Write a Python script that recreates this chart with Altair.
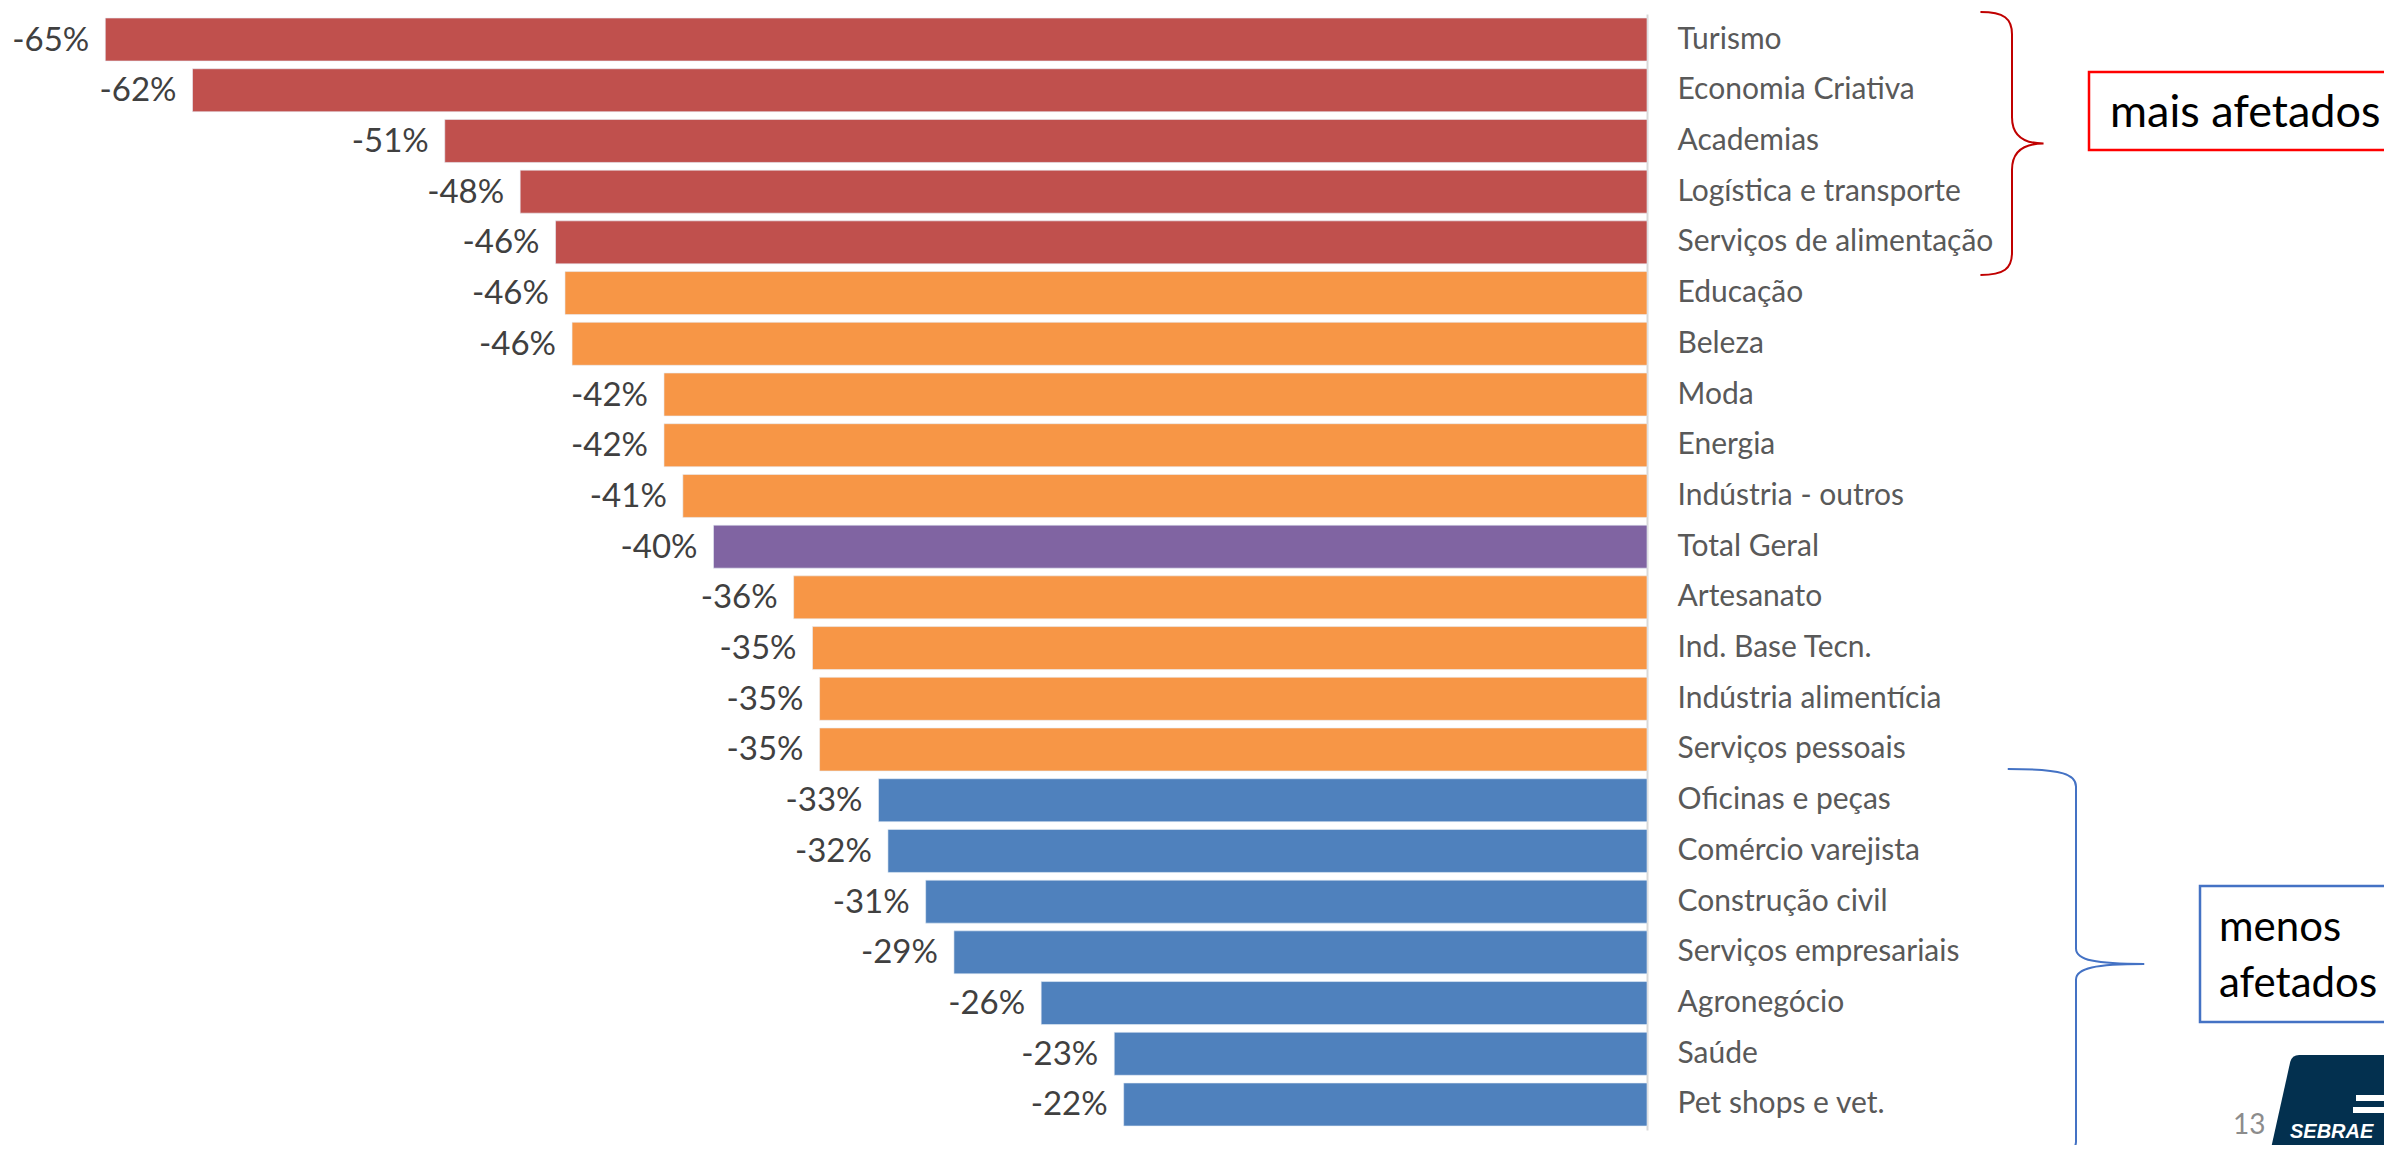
import altair as alt
import pandas as pd

categories = ["Turismo", "Economia Criativa", "Academias", "Logística e transporte",
              "Serviços de alimentação", "Educação", "Beleza", "Moda", "Energia",
              "Indústria - outros", "Total Geral", "Artesanato", "Ind. Base Tecn.",
              "Indústria alimentícia", "Serviços pessoais", "Oficinas e peças",
              "Comércio varejista", "Construção civil", "Serviços empresariais",
              "Agronegócio", "Saúde", "Pet shops e vet."]
values = [-65.4, -61.7, -51.0, -47.8, -46.3, -45.9, -45.6, -41.7, -41.7, -40.9,
          -39.6, -36.2, -35.4, -35.1, -35.1, -32.6, -32.2, -30.6, -29.4, -25.7,
          -22.6, -22.2]
groups = ["mais"] * 5 + ["medio"] * 5 + ["total"] + ["medio"] * 4 + ["menos"] * 7
group_names = ["mais", "medio", "total", "menos"]
group_colors = ["#C0504D", "#F79646", "#8064A2", "#4F81BD"]
note_top = "mais afetados"
note_bottom = ["menos", "afetados"]
logo_text = "SEBRAE"
page_number = "13"

df = pd.DataFrame({"setor": categories, "valor": values, "grupo": groups})

W, H = 1603, 1116
FONT = "Lato"

yenc = alt.Y("setor:N", sort=categories,
             scale=alt.Scale(paddingInner=0.152, paddingOuter=0.079),
             axis=alt.Axis(orient="right", title=None, ticks=False, labelPadding=30,
                           labelFont=FONT, labelFontSize=30, labelColor="#595959",
                           labelLimit=600, domainColor="#D9D9D9", domainWidth=2,
                           grid=False))
xenc = alt.X("valor:Q", scale=alt.Scale(domain=[-68, 0], nice=False), axis=None)

base = alt.Chart(df)
bars = base.mark_bar(stroke="#E8EEF6", strokeWidth=0.6).encode(
    x=xenc, y=yenc,
    color=alt.Color("grupo:N", scale=alt.Scale(domain=group_names, range=group_colors),
                    legend=None),
)
labels = base.transform_calculate(
    lbl="'-' + format(abs(datum.valor), '.0f') + '%'"
).mark_text(align="right", baseline="middle", dx=-16, dy=1, font=FONT,
            fontSize=33, color="#404040").encode(
    x=xenc, y=alt.Y("setor:N", sort=categories), text="lbl:N")

one = pd.DataFrame({"k": [0]})

brace_red_path = ("M -0.24 -1 C -0.06 -1 0 -0.95 0 -0.83 L 0 -0.2 C 0 -0.07 0.08 0 0.24 0 "
                  "C 0.08 0 0 0.07 0 0.2 L 0 0.83 C 0 0.95 -0.06 1 -0.24 1")
brace_blue_path = ("M -0.35 -1 C -0.06 -1 0 -0.97 0 -0.91 L 0 -0.08 C 0 -0.02 0.1 0 0.35 0 "
                   "C 0.1 0 0 0.02 0 0.08 L 0 0.91 C 0 0.97 -0.06 1 -0.35 1")
logo_path = ("M -0.48 -0.817 L 1 -0.817 L 1 0.817 L -0.967 0.817 L -0.63 -0.70 "
             "Q -0.6 -0.817 -0.48 -0.817 Z")

brace_red = alt.Chart(one).mark_point(shape=brace_red_path, size=263 ** 2, filled=False,
                                      stroke="#C00000", strokeWidth=2, opacity=1).encode(
    x=alt.value(1968), y=alt.value(129.5))
brace_blue = alt.Chart(one).mark_point(shape=brace_blue_path, size=390 ** 2, filled=False,
                                       stroke="#4472C4", strokeWidth=2, opacity=1).encode(
    x=alt.value(2032), y=alt.value(950))

box_red = alt.Chart(one).mark_rect(fill="white", stroke="#FF0000", strokeWidth=2.5).encode(
    x=alt.value(2045), x2=alt.value(2420), y=alt.value(58), y2=alt.value(136))
box_blue = alt.Chart(one).mark_rect(fill="white", stroke="#4472C4", strokeWidth=2.5).encode(
    x=alt.value(2156), x2=alt.value(2420), y=alt.value(872), y2=alt.value(1008))

t1 = alt.Chart(one).mark_text(text=note_top, align="left", baseline="alphabetic", font=FONT,
                              fontSize=45, color="black").encode(x=alt.value(2066), y=alt.value(113))
t2 = alt.Chart(one).mark_text(text=note_bottom[0], align="left", baseline="alphabetic", font=FONT,
                              fontSize=42, color="black").encode(x=alt.value(2175), y=alt.value(927))
t3 = alt.Chart(one).mark_text(text=note_bottom[1], align="left", baseline="alphabetic", font=FONT,
                              fontSize=42, color="black").encode(x=alt.value(2175), y=alt.value(983))

logo = alt.Chart(one).mark_point(shape=logo_path, size=120 ** 2, filled=True, fill="#03304F",
                                 strokeWidth=0, opacity=1).encode(
    x=alt.value(2284), y=alt.value(1090))
stripe1 = alt.Chart(one).mark_rect(fill="white").encode(
    x=alt.value(2312), x2=alt.value(2400), y=alt.value(1081), y2=alt.value(1087))
stripe2 = alt.Chart(one).mark_rect(fill="white").encode(
    x=alt.value(2309), x2=alt.value(2400), y=alt.value(1093), y2=alt.value(1099))
logo_t = alt.Chart(one).mark_text(text=logo_text, align="left", baseline="alphabetic",
                                  font="Liberation Sans", fontWeight="bold", fontStyle="italic",
                                  fontSize=20, color="white").encode(x=alt.value(2246), y=alt.value(1124))
page = alt.Chart(one).mark_text(text=page_number, align="left", baseline="top", font=FONT,
                                fontSize=28, color="#8C8C8C").encode(x=alt.value(2189), y=alt.value(1098))

chart = alt.layer(
    bars, labels, brace_red, brace_blue, box_red, box_blue, t1, t2, t3,
    logo, stripe1, stripe2, logo_t, page
).properties(
    width=W, height=H,
    autosize=alt.AutoSizeParams(type="none"),
    padding={"left": 36, "top": 6, "right": 2376 - 36 - W, "bottom": 1137 - 6 - H},
    background="white",
).configure_view(stroke=None)

chart.save("out.html", embed_options={"renderer": "svg", "actions": False})
